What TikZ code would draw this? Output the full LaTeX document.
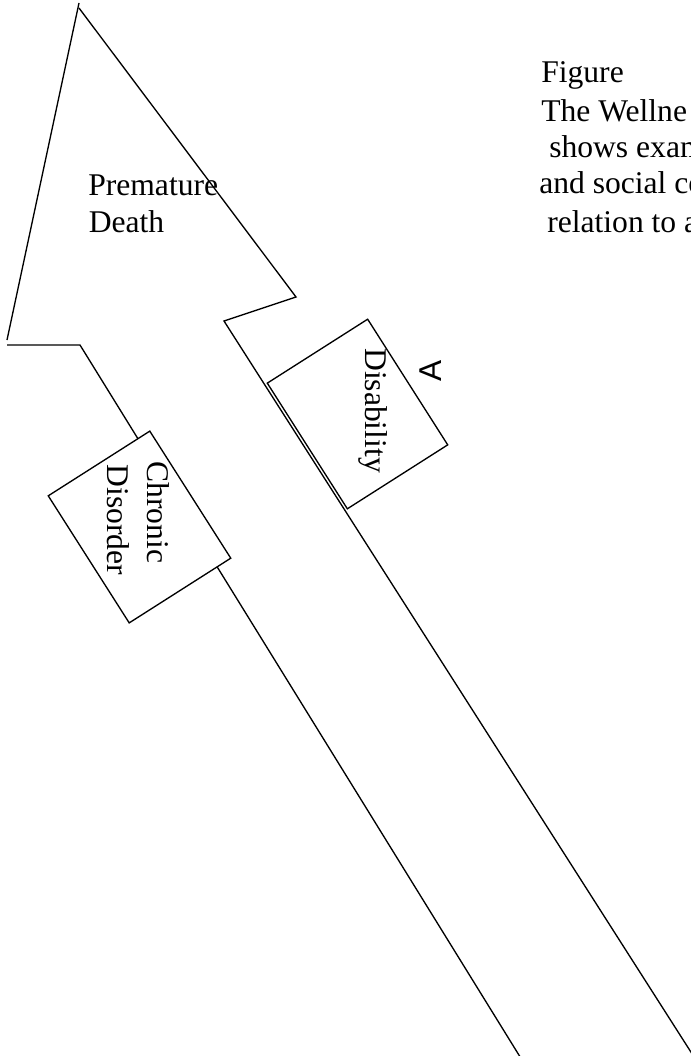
\documentclass[tikz,border=0pt]{standalone}
\usepackage{fontspec}
\setmainfont{Liberation Serif}
\newfontfamily\sansA{Liberation Sans}
\begin{document}
\begin{tikzpicture}[x=0.75pt,y=-0.75pt,
  outline/.style={draw=black, line width=1pt, line join=miter},
  boxshape/.style={draw=black, fill=white, line width=1pt, rectangle, inner sep=0pt, rotate=-57.5},
  lbl/.style={inner sep=0pt, font=\fontsize{23.7}{28}\selectfont, anchor=base west},
]
\useasboundingbox (0,0) rectangle (691,1056);
% arrow outline
\coordinate (tipL) at (79,3);
\coordinate (tipR) at (79,8);
\coordinate (barbL) at (7,340);
\coordinate (baseL) at (7,345);
\coordinate (neckL) at (80,345);
\coordinate (endL) at (522,1060);
\coordinate (barbR) at (296,297);
\coordinate (neckR) at (224,321);
\coordinate (endR) at (696,1060);
\draw[outline] (tipL) -- (barbL);
\draw[outline] (baseL) -- (neckL) -- (endL);
\draw[outline] (tipR) -- (barbR) -- (neckR) -- (endR);
% boxes
\node[boxshape, minimum width=113pt, minimum height=90.3pt] (chronicbox) at (139.5,527) {};
\node[boxshape, minimum width=111.75pt, minimum height=89.25pt] (disbox) at (357.5,414) {};
% texts
\node[lbl] (prem) at (88,195) {Premature};
\node[lbl] (death) at (88.5,232) {Death};
\node[lbl] (fig) at (541,83) {Figure};
\node[lbl] (well) at (541,122) {The Wellne};
\node[lbl] (shows) at (549,157) {shows exam};
\node[lbl] (social) at (539,193) {and social co};
\node[lbl] (rel) at (547,232) {relation to a};
\node[lbl, rotate=-90] (chron) at (147,461) {Chronic};
\node[lbl, rotate=-90] (disord) at (107,464.5) {Disorder};
\node[lbl, rotate=-90] (disab) at (365,348) {Disability};
\node[lbl, rotate=90, font=\sansA\fontsize{23.7}{28}\selectfont] (amark) at (441,382) {A};
\end{tikzpicture}
\end{document}
